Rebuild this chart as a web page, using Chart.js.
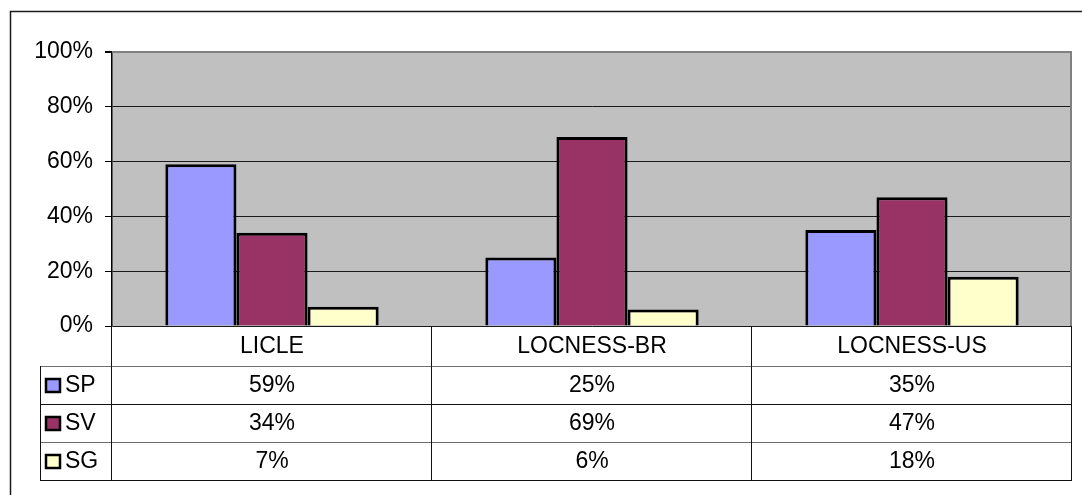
<!DOCTYPE html>
<html>
<head>
<meta charset="utf-8">
<title>SP / SV / SG by corpus</title>
<script src="https://cdn.jsdelivr.net/npm/chart.js@4.4.1/dist/chart.umd.min.js"></script>
<style>
  html, body { margin: 0; padding: 0; background: #ffffff; }
  canvas { display: block; }
</style>
</head>
<body>
<canvas id="chart" width="1082" height="495"></canvas>
<script>
// Corpora along the category axis
const categories = ['LICLE', 'LOCNESS-BR', 'LOCNESS-US'];

// Share of each structure per corpus (percent)
const seriesNames = ['SP', 'SV', 'SG'];
const spValues = [59, 25, 35];
const svValues = [34, 69, 47];
const sgValues = [7, 6, 18];

// Value axis ticks
const yTicks = [0, 20, 40, 60, 80, 100];

const seriesColors = ['#9999FF', '#993366', '#FFFFCC'];
const seriesValues = [spValues, svValues, sgValues];
const FONT = "'Liberation Sans', Arial, sans-serif";
const FONT_SIZE = 23;

// Grey plot background, plot frame, outer frame
const plotFrame = {
  id: 'plotFrame',
  beforeDraw(chart) {
    const { ctx, chartArea: a } = chart;
    ctx.save();
    ctx.fillStyle = '#C0C0C0';
    ctx.fillRect(a.left, a.top, a.right - a.left, a.bottom - a.top);
    ctx.restore();
  },
  afterDatasetsDraw(chart) {
    const { ctx, chartArea: a } = chart;
    ctx.save();
    ctx.strokeStyle = '#808080';
    ctx.lineWidth = 2;
    ctx.beginPath();
    ctx.moveTo(a.left, a.top);
    ctx.lineTo(a.right - 1, a.top);
    ctx.lineTo(a.right - 1, a.bottom);
    ctx.stroke();
    // outer chart border
    ctx.strokeStyle = '#1a1a1a';
    ctx.lineWidth = 1.5;
    ctx.beginPath();
    ctx.moveTo(10.5, chart.height);
    ctx.lineTo(10.5, 11.5);
    ctx.lineTo(chart.width, 11.5);
    ctx.stroke();
    ctx.restore();
  }
};

// Data table under the plot: category header plus one row per series
const dataTable = {
  id: 'dataTable',
  afterDraw(chart) {
    const { ctx, chartArea: a } = chart;
    const xs = chart.scales.x;
    const headerH = 40, rowH = 38, legendLeft = 40;
    const top = a.bottom;
    const bottom = top + headerH + rowH * seriesNames.length;
    const colW = (a.right - a.left) / categories.length;

    ctx.save();
    ctx.lineWidth = 1;

    // horizontal rules
    const rowLines = [];
    for (let r = 0; r <= seriesNames.length; r++) rowLines.push(top + headerH + r * rowH);
    rowLines.forEach((y, i) => {
      ctx.strokeStyle = (i % 2 === 0) ? '#6e6e6e' : '#111111';
      ctx.beginPath();
      ctx.moveTo(legendLeft, Math.round(y) + 0.5);
      ctx.lineTo(a.right, Math.round(y) + 0.5);
      ctx.stroke();
    });

    // vertical rules
    ctx.strokeStyle = '#111111';
    for (let c = 0; c <= categories.length; c++) {
      const x = Math.round(a.left + c * colW) - 0.5;
      ctx.beginPath();
      ctx.moveTo(x, top);
      ctx.lineTo(x, bottom + 0.5);
      ctx.stroke();
    }
    ctx.beginPath();
    ctx.moveTo(legendLeft + 0.5, top + headerH);
    ctx.lineTo(legendLeft + 0.5, bottom + 0.5);
    ctx.stroke();

    // header labels
    ctx.fillStyle = '#000000';
    ctx.font = FONT_SIZE + 'px ' + FONT;
    ctx.textAlign = 'center';
    ctx.textBaseline = 'middle';
    categories.forEach((cat, i) => {
      ctx.fillText(cat, xs.getPixelForValue(i), top + headerH / 2 + 1);
    });

    // series rows
    seriesNames.forEach((name, r) => {
      const yMid = top + headerH + r * rowH + rowH / 2 + 1;
      // legend key
      ctx.fillStyle = seriesColors[r];
      ctx.fillRect(46, yMid - 7, 14, 13);
      ctx.strokeStyle = '#000000';
      ctx.lineWidth = 2.5;
      ctx.strokeRect(46, yMid - 7, 14, 13);
      ctx.lineWidth = 1;
      ctx.fillStyle = '#000000';
      ctx.textAlign = 'left';
      ctx.fillText(name, 65, yMid);
      ctx.textAlign = 'center';
      seriesValues[r].forEach((v, i) => {
        ctx.fillText(v + '%', xs.getPixelForValue(i), yMid);
      });
    });
    ctx.restore();
  }
};

new Chart(document.getElementById('chart'), {
  type: 'bar',
  data: {
    labels: categories,
    datasets: seriesNames.map((name, i) => ({
      label: name,
      data: seriesValues[i],
      backgroundColor: seriesColors[i],
      borderColor: '#000000',
      borderWidth: 3,
      borderSkipped: 'start',
      categoryPercentage: 3 / 4.5,
      barPercentage: 1
    }))
  },
  options: {
    responsive: false,
    devicePixelRatio: 1,
    animation: false,
    events: [],
    layout: { padding: { left: 0, right: 10, top: 52, bottom: 169 } },
    plugins: {
      legend: { display: false },
      tooltip: { enabled: false }
    },
    scales: {
      x: { display: false },
      y: {
        min: 0,
        max: 100,
        afterFit(scale) { scale.width = 112; },
        afterBuildTicks(scale) { scale.ticks = yTicks.map(v => ({ value: v })); },
        ticks: {
          padding: 12,
          color: '#000000',
          font: { family: FONT, size: FONT_SIZE },
          callback: v => v + '%'
        },
        grid: {
          color: ctx => (ctx.tick && ctx.tick.value === 100) ? '#808080' : '#1a1a1a',
          lineWidth: ctx => (ctx.tick && ctx.tick.value === 100) ? 2 : 1,
          tickColor: '#000000',
          tickLength: 7
        },
        border: { color: '#000000', width: 1.5 }
      }
    }
  },
  plugins: [plotFrame, dataTable]
});
</script>
</body>
</html>
